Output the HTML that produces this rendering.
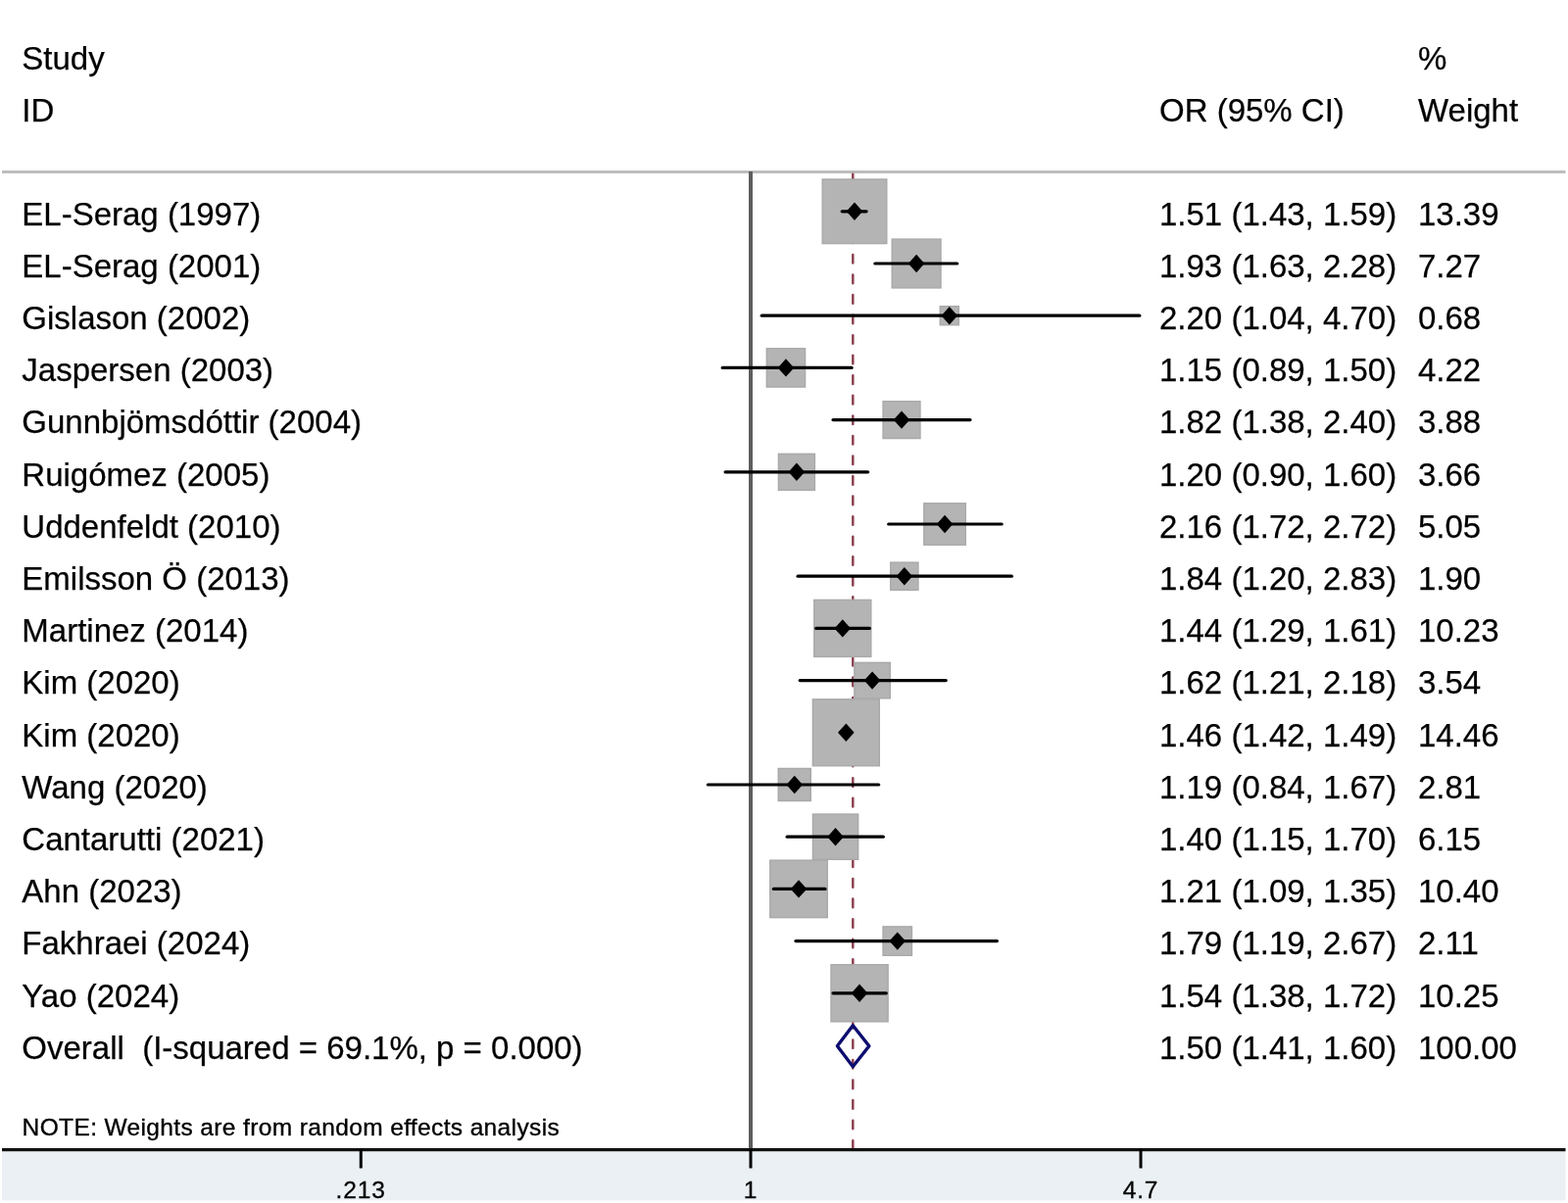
<!DOCTYPE html>
<html><head><meta charset="utf-8"><title>Forest plot</title>
<style>
html,body{margin:0;padding:0;background:#fff;}
body{width:1600px;height:1228px;overflow:hidden;}
svg{display:block;}
.t{font-family:"Liberation Sans",Arial,Helvetica,sans-serif;font-size:33px;fill:#000;stroke:#000;stroke-width:0.25px;}
.n{font-family:"Liberation Sans",Arial,Helvetica,sans-serif;font-size:24.5px;letter-spacing:0.37px;fill:#000;stroke:#000;stroke-width:0.35px;}
.k{font-family:"Liberation Sans",Arial,Helvetica,sans-serif;font-size:24.5px;letter-spacing:0.9px;fill:#000;stroke:#000;stroke-width:0.3px;}
</style></head><body>
<svg width="1600" height="1228" viewBox="0 0 1600 1228">
<rect x="0" y="0" width="1600" height="1228" fill="#ffffff"/>
<rect x="2" y="1175" width="1595.5" height="50.4" fill="#eaf0f3"/>
<text x="22.3" y="71" class="t">Study</text>
<text x="22.3" y="123.6" class="t">ID</text>
<text x="1183.0" y="123.6" class="t">OR (95% CI)</text>
<text x="1447.0" y="71" class="t">%</text>
<text x="1447.0" y="123.6" class="t">Weight</text>
<line x1="2" y1="175.6" x2="1597.5" y2="175.6" stroke="#bdbdbd" stroke-width="3"/>
<line x1="766.0" y1="175" x2="766.0" y2="1174" stroke="#5e5e5e" stroke-width="4"/>
<line x1="870.29" y1="177.8" x2="870.29" y2="1174" stroke="#8c4250" stroke-width="2.5" stroke-linecap="round" stroke-dasharray="8.6 11.95"/>
<rect x="839.19" y="182.99" width="65.61" height="65.61" fill="#b4b4b4" stroke="#a9a9a9" stroke-width="1.4"/>
<rect x="910.20" y="244.09" width="49.82" height="49.82" fill="#b4b4b4" stroke="#a9a9a9" stroke-width="1.4"/>
<rect x="959.23" y="312.64" width="19.12" height="19.12" fill="#b4b4b4" stroke="#a9a9a9" stroke-width="1.4"/>
<rect x="782.30" y="355.76" width="39.29" height="39.29" fill="#b4b4b4" stroke="#a9a9a9" stroke-width="1.4"/>
<rect x="901.07" y="409.65" width="37.90" height="37.90" fill="#b4b4b4" stroke="#a9a9a9" stroke-width="1.4"/>
<rect x="794.41" y="463.31" width="36.98" height="36.98" fill="#b4b4b4" stroke="#a9a9a9" stroke-width="1.4"/>
<rect x="942.84" y="513.77" width="42.45" height="42.45" fill="#b4b4b4" stroke="#a9a9a9" stroke-width="1.4"/>
<rect x="908.73" y="574.10" width="28.21" height="28.21" fill="#b4b4b4" stroke="#a9a9a9" stroke-width="1.4"/>
<rect x="830.76" y="612.37" width="58.05" height="58.05" fill="#b4b4b4" stroke="#a9a9a9" stroke-width="1.4"/>
<rect x="871.85" y="676.37" width="36.46" height="36.46" fill="#b4b4b4" stroke="#a9a9a9" stroke-width="1.4"/>
<rect x="829.35" y="713.82" width="67.96" height="67.96" fill="#b4b4b4" stroke="#a9a9a9" stroke-width="1.4"/>
<rect x="794.20" y="784.45" width="33.09" height="33.09" fill="#b4b4b4" stroke="#a9a9a9" stroke-width="1.4"/>
<rect x="829.41" y="831.06" width="46.27" height="46.27" fill="#b4b4b4" stroke="#a9a9a9" stroke-width="1.4"/>
<rect x="785.78" y="878.16" width="58.49" height="58.49" fill="#b4b4b4" stroke="#a9a9a9" stroke-width="1.4"/>
<rect x="901.03" y="945.89" width="29.42" height="29.42" fill="#b4b4b4" stroke="#a9a9a9" stroke-width="1.4"/>
<rect x="848.00" y="984.75" width="58.11" height="58.11" fill="#b4b4b4" stroke="#a9a9a9" stroke-width="1.4"/>
<line x1="859.19" y1="215.80" x2="884.07" y2="215.80" stroke="#000" stroke-width="3.2" stroke-linecap="round"/>
<path d="M863.69 215.80 L871.99 206.60 L880.29 215.80 L871.99 225.00 Z" fill="#000"/>
<text x="22.3" y="229.60" class="t">EL-Serag (1997)</text>
<text x="1183.0" y="229.60" class="t">1.51 (1.43, 1.59)</text>
<text x="1447.0" y="229.60" class="t">13.39</text>
<line x1="892.86" y1="269.00" x2="976.78" y2="269.00" stroke="#000" stroke-width="3.2" stroke-linecap="round"/>
<path d="M926.81 269.00 L935.11 259.80 L943.41 269.00 L935.11 278.20 Z" fill="#000"/>
<text x="22.3" y="282.80" class="t">EL-Serag (2001)</text>
<text x="1183.0" y="282.80" class="t">1.93 (1.63, 2.28)</text>
<text x="1447.0" y="282.80" class="t">7.27</text>
<line x1="777.29" y1="322.20" x2="1162.83" y2="322.20" stroke="#000" stroke-width="3.2" stroke-linecap="round"/>
<path d="M960.49 322.20 L968.79 313.00 L977.09 322.20 L968.79 331.40 Z" fill="#000"/>
<text x="22.3" y="336.00" class="t">Gislason (2002)</text>
<text x="1183.0" y="336.00" class="t">2.20 (1.04, 4.70)</text>
<text x="1447.0" y="336.00" class="t">0.68</text>
<line x1="737.23" y1="375.40" x2="869.09" y2="375.40" stroke="#000" stroke-width="3.2" stroke-linecap="round"/>
<path d="M793.65 375.40 L801.95 366.20 L810.25 375.40 L801.95 384.60 Z" fill="#000"/>
<text x="22.3" y="389.20" class="t">Jaspersen (2003)</text>
<text x="1183.0" y="389.20" class="t">1.15 (0.89, 1.50)</text>
<text x="1447.0" y="389.20" class="t">4.22</text>
<line x1="850.04" y1="428.60" x2="989.97" y2="428.60" stroke="#000" stroke-width="3.2" stroke-linecap="round"/>
<path d="M911.72 428.60 L920.02 419.40 L928.32 428.60 L920.02 437.80 Z" fill="#000"/>
<text x="22.3" y="442.40" class="t">Gunnbjömsdóttir (2004)</text>
<text x="1183.0" y="442.40" class="t">1.82 (1.38, 2.40)</text>
<text x="1447.0" y="442.40" class="t">3.88</text>
<line x1="740.10" y1="481.80" x2="885.68" y2="481.80" stroke="#000" stroke-width="3.2" stroke-linecap="round"/>
<path d="M804.59 481.80 L812.89 472.60 L821.19 481.80 L812.89 491.00 Z" fill="#000"/>
<text x="22.3" y="495.60" class="t">Ruigómez (2005)</text>
<text x="1183.0" y="495.60" class="t">1.20 (0.90, 1.60)</text>
<text x="1447.0" y="495.60" class="t">3.66</text>
<line x1="906.69" y1="535.00" x2="1022.16" y2="535.00" stroke="#000" stroke-width="3.2" stroke-linecap="round"/>
<path d="M955.77 535.00 L964.07 525.80 L972.37 535.00 L964.07 544.20 Z" fill="#000"/>
<text x="22.3" y="548.80" class="t">Uddenfeldt (2010)</text>
<text x="1183.0" y="548.80" class="t">2.16 (1.72, 2.72)</text>
<text x="1447.0" y="548.80" class="t">5.05</text>
<line x1="814.09" y1="588.20" x2="1032.36" y2="588.20" stroke="#000" stroke-width="3.2" stroke-linecap="round"/>
<path d="M914.53 588.20 L922.83 579.00 L931.13 588.20 L922.83 597.40 Z" fill="#000"/>
<text x="22.3" y="602.00" class="t">Emilsson Ö (2013)</text>
<text x="1183.0" y="602.00" class="t">1.84 (1.20, 2.83)</text>
<text x="1447.0" y="602.00" class="t">1.90</text>
<line x1="832.69" y1="641.40" x2="887.29" y2="641.40" stroke="#000" stroke-width="3.2" stroke-linecap="round"/>
<path d="M851.49 641.40 L859.79 632.20 L868.09 641.40 L859.79 650.60 Z" fill="#000"/>
<text x="22.3" y="655.20" class="t">Martinez (2014)</text>
<text x="1183.0" y="655.20" class="t">1.44 (1.29, 1.61)</text>
<text x="1447.0" y="655.20" class="t">10.23</text>
<line x1="816.23" y1="694.60" x2="965.24" y2="694.60" stroke="#000" stroke-width="3.2" stroke-linecap="round"/>
<path d="M881.78 694.60 L890.08 685.40 L898.38 694.60 L890.08 703.80 Z" fill="#000"/>
<text x="22.3" y="708.40" class="t">Kim (2020)</text>
<text x="1183.0" y="708.40" class="t">1.62 (1.21, 2.18)</text>
<text x="1447.0" y="708.40" class="t">3.54</text>
<line x1="857.39" y1="747.80" x2="867.37" y2="747.80" stroke="#000" stroke-width="3.2" stroke-linecap="round"/>
<path d="M855.03 747.80 L863.33 738.60 L871.63 747.80 L863.33 757.00 Z" fill="#000"/>
<text x="22.3" y="761.60" class="t">Kim (2020)</text>
<text x="1183.0" y="761.60" class="t">1.46 (1.42, 1.49)</text>
<text x="1447.0" y="761.60" class="t">14.46</text>
<line x1="722.36" y1="801.00" x2="896.70" y2="801.00" stroke="#000" stroke-width="3.2" stroke-linecap="round"/>
<path d="M802.44 801.00 L810.74 791.80 L819.04 801.00 L810.74 810.20 Z" fill="#000"/>
<text x="22.3" y="814.80" class="t">Wang (2020)</text>
<text x="1183.0" y="814.80" class="t">1.19 (0.84, 1.67)</text>
<text x="1447.0" y="814.80" class="t">2.81</text>
<line x1="803.15" y1="854.20" x2="901.28" y2="854.20" stroke="#000" stroke-width="3.2" stroke-linecap="round"/>
<path d="M844.24 854.20 L852.54 845.00 L860.84 854.20 L852.54 863.40 Z" fill="#000"/>
<text x="22.3" y="868.00" class="t">Cantarutti (2021)</text>
<text x="1183.0" y="868.00" class="t">1.40 (1.15, 1.70)</text>
<text x="1447.0" y="868.00" class="t">6.15</text>
<line x1="789.36" y1="907.40" x2="841.99" y2="907.40" stroke="#000" stroke-width="3.2" stroke-linecap="round"/>
<path d="M806.73 907.40 L815.03 898.20 L823.33 907.40 L815.03 916.60 Z" fill="#000"/>
<text x="22.3" y="921.20" class="t">Ahn (2023)</text>
<text x="1183.0" y="921.20" class="t">1.21 (1.09, 1.35)</text>
<text x="1447.0" y="921.20" class="t">10.40</text>
<line x1="811.94" y1="960.60" x2="1017.39" y2="960.60" stroke="#000" stroke-width="3.2" stroke-linecap="round"/>
<path d="M907.45 960.60 L915.75 951.40 L924.05 960.60 L915.75 969.80 Z" fill="#000"/>
<text x="22.3" y="974.40" class="t">Fakhraei (2024)</text>
<text x="1183.0" y="974.40" class="t">1.79 (1.19, 2.67)</text>
<text x="1447.0" y="974.40" class="t">2.11</text>
<line x1="850.04" y1="1013.80" x2="904.29" y2="1013.80" stroke="#000" stroke-width="3.2" stroke-linecap="round"/>
<path d="M868.75 1013.80 L877.05 1004.60 L885.35 1013.80 L877.05 1023.00 Z" fill="#000"/>
<text x="22.3" y="1027.60" class="t">Yao (2024)</text>
<text x="1183.0" y="1027.60" class="t">1.54 (1.38, 1.72)</text>
<text x="1447.0" y="1027.60" class="t">10.25</text>
<path d="M854.37 1067.80 L870.29 1046.80 L886.88 1067.80 L870.29 1088.80 Z" fill="none" stroke="#0c0c70" stroke-width="3.4" stroke-linejoin="round"/>
<text x="22.3" y="1080.80" class="t" xml:space="preserve">Overall  (I-squared = 69.1%, p = 0.000)</text>
<text x="1183.0" y="1080.80" class="t">1.50 (1.41, 1.60)</text>
<text x="1447.0" y="1080.80" class="t">100.00</text>
<text x="22.6" y="1159.3" class="n">NOTE: Weights are from random effects analysis</text>
<line x1="2" y1="1173.6" x2="1597.5" y2="1173.6" stroke="#111" stroke-width="3.4"/>
<line x1="368.25" y1="1173" x2="368.25" y2="1192.5" stroke="#000" stroke-width="3"/>
<text x="368.25" y="1222.5" class="k" text-anchor="middle">.213</text>
<line x1="766.00" y1="1173" x2="766.00" y2="1192.5" stroke="#000" stroke-width="3"/>
<text x="766.00" y="1222.5" class="k" text-anchor="middle">1</text>
<line x1="1164.03" y1="1173" x2="1164.03" y2="1192.5" stroke="#000" stroke-width="3"/>
<text x="1164.03" y="1222.5" class="k" text-anchor="middle">4.7</text>
</svg>
</body></html>
